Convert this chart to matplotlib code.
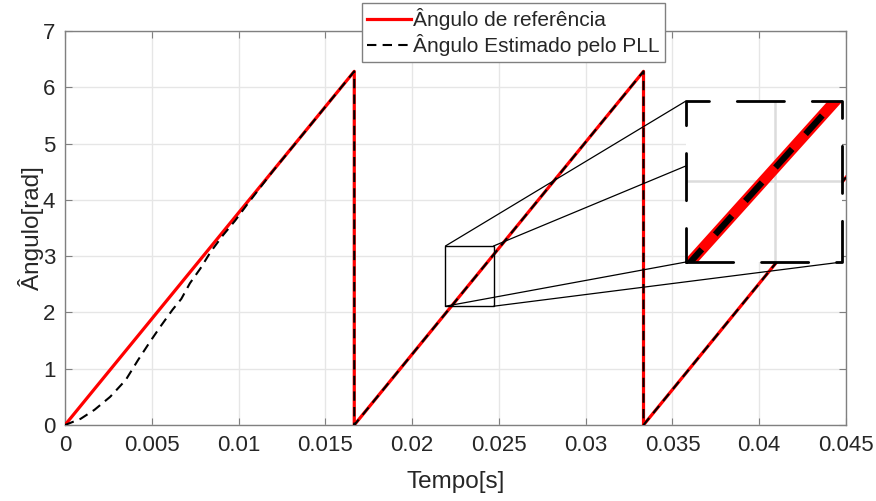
import matplotlib
matplotlib.use("Agg")
import matplotlib.pyplot as plt
from matplotlib.patches import Rectangle, ConnectionPatch

# ---- data ----
t_ref = [0.0, 0.016667, 0.016667, 0.033333, 0.033333, 0.045]
ang_ref = [0.0, 6.283, 0.0, 6.283, 0.0, 4.40]

t_pll = [0.0, 0.0009, 0.0017, 0.0026, 0.0035, 0.0042, 0.0049, 0.0055, 0.0062,
         0.0067, 0.0072, 0.0078, 0.0084, 0.0091, 0.0098, 0.0105, 0.0112, 0.0120,
         0.016667, 0.016667, 0.033333, 0.033333, 0.045]
ang_pll = [0.0, 0.11, 0.27, 0.50, 0.80, 1.15, 1.48, 1.75, 2.05,
           2.24, 2.52, 2.78, 3.08, 3.37, 3.63, 3.92, 4.20, 4.52,
           6.283, 0.0, 6.283, 0.0, 4.40]

xticks = [0, 0.005, 0.01, 0.015, 0.02, 0.025, 0.03, 0.035, 0.04, 0.045]
xticklabels = ["0", "0.005", "0.01", "0.015", "0.02", "0.025", "0.03", "0.035", "0.04", "0.045"]
yticks = [0, 1, 2, 3, 4, 5, 6, 7]

label_ref = "Ângulo de referência"
label_pll = "Ângulo Estimado pelo PLL"

zoom_x = [0.02192, 0.02469]
zoom_y = [2.11, 3.18]
inset_xlim = [0.02192, 0.02469]
inset_ylim = [2.01, 2.98]

# ---- styling ----
plt.rcParams['font.family'] = ['Liberation Sans', 'DejaVu Sans']
txt = '#262626'
spine = '#808080'
gridc = '#e6e6e6'

W, H = 876, 501
fig = plt.figure(figsize=(W / 100, H / 100), dpi=100)
ax = fig.add_axes([65 / W, 1 - 425 / H, (846 - 65) / W, (425 - 31) / H])

ax.plot(t_ref, ang_ref, color='#ff0000', lw=2.3, label=label_ref, zorder=3)
ax.plot(t_pll, ang_pll, color='black', lw=1.5, linestyle=(0, (4.5, 3.0)),
        label=label_pll, zorder=4)

ax.set_xlim(0, 0.045)
ax.set_ylim(0, 7)
ax.set_xticks(xticks)
ax.set_xticklabels(xticklabels)
ax.set_yticks(yticks)
ax.grid(True, color=gridc, lw=1.0)
ax.set_axisbelow(True)
ax.tick_params(direction='in', top=True, right=True, length=5, width=0.8,
               colors=spine, labelcolor=txt, labelsize=16)
ax.tick_params(axis='x', pad=7)
ax.tick_params(axis='y', pad=7)
for s in ax.spines.values():
    s.set_color(spine)
    s.set_linewidth(1.0)
ax.set_xlabel("Tempo[s]", fontsize=17.5, color=txt, labelpad=11)
ax.set_ylabel("Ângulo[rad]", fontsize=17.5, color=txt, labelpad=-1)

# zoom rectangle
ax.add_patch(Rectangle((zoom_x[0], zoom_y[0]), zoom_x[1] - zoom_x[0],
                       zoom_y[1] - zoom_y[0], fill=False, edgecolor='black',
                       lw=1.0, zorder=5))

# inset
axin = fig.add_axes([686 / W, 1 - 262 / H, (842 - 686) / W, (262 - 101) / H])
axin.plot(t_ref, ang_ref, color='#ff0000', lw=8.0, zorder=3)
axin.plot(t_pll, ang_pll, color='black', lw=4.5, linestyle=(0, (4.0, 3.2)), zorder=4)
axin.set_xlim(inset_xlim)
axin.set_ylim(inset_ylim)
axin.set_xticks([0.0235])
axin.set_yticks([2.5])
axin.tick_params(length=0, labelbottom=False, labelleft=False)
axin.grid(True, color='#dcdcdc', lw=1.8)
axin.set_axisbelow(True)
for s in axin.spines.values():
    s.set_visible(False)
axin.add_patch(Rectangle((0, 0), 1, 1, transform=axin.transAxes, fill=False,
                         edgecolor='black', lw=2.0, linestyle=(0, (17, 10)),
                         joinstyle='round', capstyle='round', clip_on=False,
                         zorder=6))

# connector lines (corner to corner, hidden behind the inset)
corners = [((zoom_x[0], zoom_y[1]), (0, 1)), ((zoom_x[1], zoom_y[1]), (1, 1)),
           ((zoom_x[0], zoom_y[0]), (0, 0)), ((zoom_x[1], zoom_y[0]), (1, 0))]
for a, b in corners:
    cp = ConnectionPatch(xyA=a, coordsA=ax.transData, xyB=b, coordsB=axin.transAxes,
                         color='black', lw=0.9, zorder=5)
    ax.add_artist(cp)

# legend
leg = fig.legend(loc='upper left', bbox_to_anchor=(362 / W, 1 - 3 / H),
                 fontsize=15, frameon=True, fancybox=False, edgecolor=spine,
                 framealpha=1, handlelength=2.1, handletextpad=0.1,
                 labelspacing=0.2, borderpad=0.25, borderaxespad=0)
leg.get_frame().set_linewidth(1.0)
for t in leg.get_texts():
    t.set_color(txt)

fig.savefig("out.png", dpi=100)
